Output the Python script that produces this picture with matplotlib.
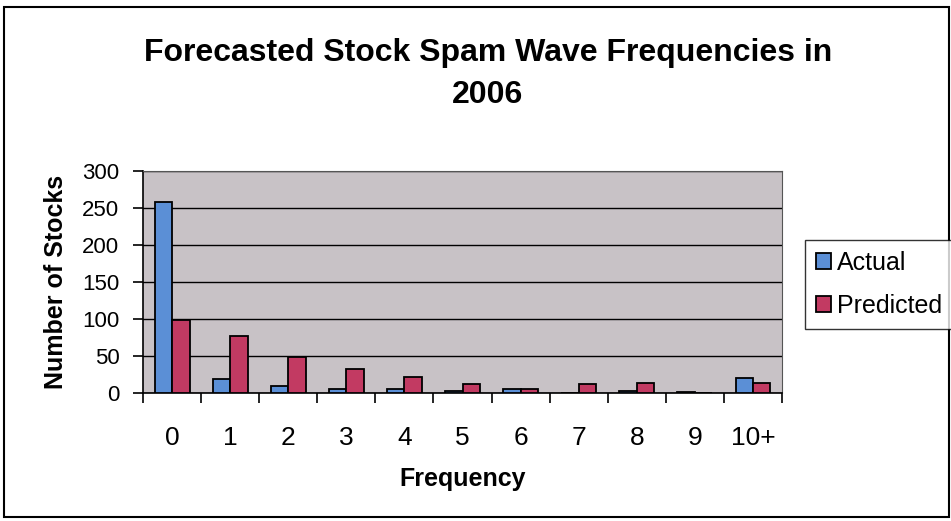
import matplotlib
matplotlib.use("Agg")
import matplotlib.pyplot as plt
from matplotlib.patches import Rectangle
import numpy as np

categories = ["0", "1", "2", "3", "4", "5", "6", "7", "8", "9", "10+"]
actual = [258, 19, 9, 5, 5, 3, 5, 0, 3, 2, 20]
predicted = [98, 77, 49, 32, 21, 12, 5, 12, 14, 0, 14]

plt.rcParams['font.family'] = ['Liberation Sans', 'DejaVu Sans']

fig = plt.figure(figsize=(9.51, 5.21), dpi=100)
fig.patch.set_facecolor('white')
fig.patches.append(Rectangle((0.004, 0.008), 0.994, 0.978, transform=fig.transFigure,
                             fill=False, edgecolor='black', linewidth=1.5))

ax = fig.add_axes([0.1504, 0.2457, 0.6719, 0.4261])
ax.set_facecolor('#c8c2c6')
x = np.arange(len(categories))
w = 0.3
ax.bar(x - w/2, actual, width=w, color='#5b8fd6', edgecolor='black', linewidth=1.3,
       label='Actual', zorder=3)
ax.bar(x + w/2, predicted, width=w, color='#c23a62', edgecolor='black', linewidth=1.3,
       label='Predicted', zorder=3)

ax.set_xlim(-0.5, len(categories) - 0.5)
ax.set_ylim(0, 300)
ax.set_yticks(range(0, 301, 50))
ax.yaxis.grid(True, color='black', linewidth=1.0, zorder=1)
ax.set_xticks(x)
ax.set_xticklabels(categories, fontsize=19)
ax.tick_params(axis='x', length=0, pad=24)
ax.set_xticks(np.arange(-0.5, len(categories), 1.0), minor=True)
ax.tick_params(axis='x', which='minor', length=7, width=1.2, direction='out')
ax.tick_params(axis='y', labelsize=16, length=7, width=1.2, pad=10)
for s in ['top', 'right']:
    ax.spines[s].set_visible(True)
    ax.spines[s].set_color('#555555')
ax.spines['left'].set_linewidth(1.2)
ax.spines['bottom'].set_linewidth(1.2)

ax.set_xlabel('Frequency', fontsize=18, fontweight='bold', labelpad=12)
ax.set_ylabel('Number of Stocks', fontsize=18, fontweight='bold', labelpad=10)

fig.text(0.513, 0.899, 'Forecasted Stock Spam Wave Frequencies in', ha='center', va='center',
         fontsize=23, fontweight='bold')
fig.text(0.513, 0.817, '2006', ha='center', va='center', fontsize=23, fontweight='bold')

leg = fig.legend(loc='upper left', bbox_to_anchor=(0.846, 0.54), fontsize=18,
                 frameon=True, fancybox=False, edgecolor='black', handlelength=0.6,
                 handleheight=0.6, handletextpad=0.25, borderpad=0.45, labelspacing=0.75,
                 borderaxespad=0)
leg.get_frame().set_linewidth(1.0)

fig.savefig('out.png', dpi=100)
